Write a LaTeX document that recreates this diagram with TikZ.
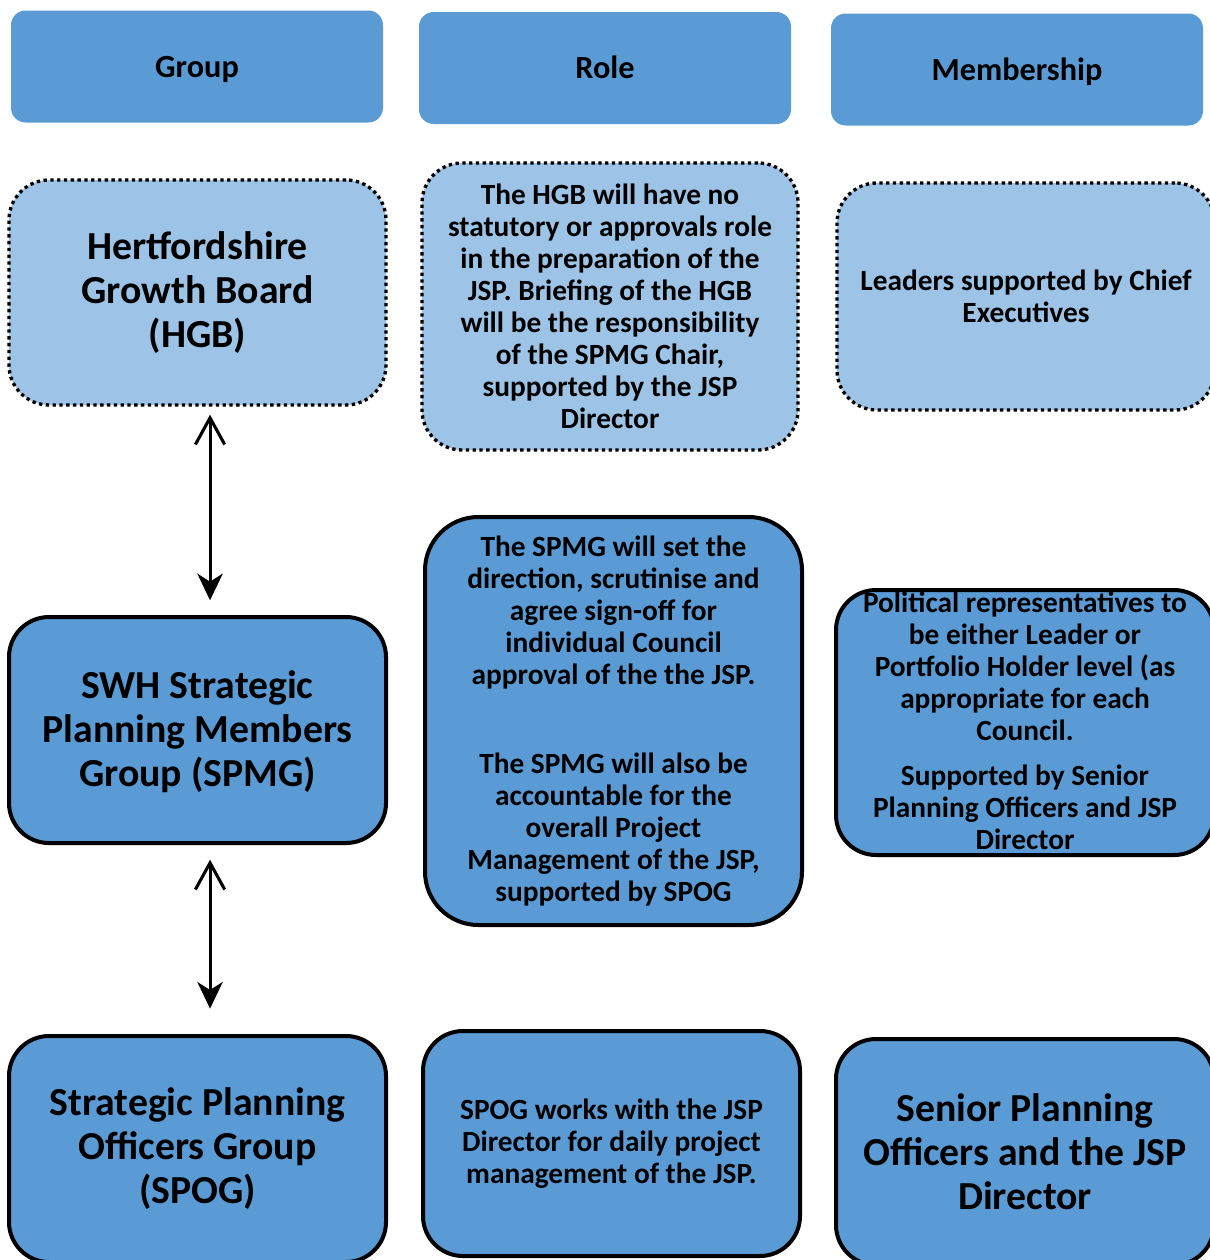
\documentclass[tikz,border=0pt]{standalone}
\usepackage{fontspec}
\setmainfont{Carlito}
\usetikzlibrary{arrows.meta}
\definecolor{midblue}{HTML}{5B9BD5}
\definecolor{lightblue}{HTML}{9DC3E6}
\begin{document}
\begin{tikzpicture}[x=0.75pt,y=-0.75pt,
  hdr/.style={rectangle,rounded corners=11pt,fill=midblue,draw=none,minimum width=279pt,minimum height=84pt,inner sep=0pt,text height=16pt,text depth=0pt,font=\fontsize{24.2}{28}\selectfont\bfseries},
  dotbox/.style={rectangle,rounded corners=30pt,fill=lightblue,draw=black,line width=2.5pt,dash pattern=on 2.5pt off 2.6pt,minimum width=282.75pt,align=center,inner sep=0pt},
  solidbox/.style={rectangle,rounded corners=30pt,fill=midblue,draw=black,line width=3pt,minimum width=282.75pt,align=center,inner sep=0pt},
  bigtxt/.style={font=\fontsize{29.8}{33}\selectfont\bfseries},
  smalltxt/.style={font=\fontsize{22}{24}\selectfont\bfseries},
  conn/.style={line width=2.3pt,{Straight Barb[length=20pt,width=22pt,line width=2.3pt]}-{Stealth[length=20pt,width=19pt,inset=6pt]}}
]
\useasboundingbox (0,0) rectangle (1210,1260);
\clip (0,0) rectangle (1210,1260);
\fill[white] (0,0) rectangle (1210,1260);

% headers
\node[hdr] (hgroup) at (197,66.5) {Group};
\node[hdr] (hrole) at (605,68) {Role};
\node[hdr] (hmem) at (1017,69.5) {Membership};

% row 1
\node[dotbox,bigtxt,minimum height=168.75pt] (hgb) at (197.5,292.5) {Hertfordshire\\Growth Board\\(HGB)};
\node[dotbox,smalltxt,minimum width=282pt,minimum height=215.25pt] (role1) at (610,306.5) {The HGB will have no\\statutory or approvals role\\in the preparation of the\\JSP. Briefing of the HGB\\will be the responsibility\\of the SPMG Chair,\\supported by the JSP\\Director};
\node[dotbox,smalltxt,minimum width=283.5pt,minimum height=170.25pt] (lead) at (1026,296.5) {Leaders supported by Chief\\Executives};

% row 2
\node[solidbox,minimum height=169.5pt] (spmg) at (197.5,730) {};
\node[bigtxt,align=center,inner sep=0pt] (spmgtxt) at (197.5,731.5) {SWH Strategic\\Planning Members\\Group (SPMG)};
\node[solidbox,smalltxt,rounded corners=40pt,minimum height=306pt] (role2) at (613.5,721) {The SPMG will set the\\direction, scrutinise and\\agree sign-off for\\individual Council\\approval of the the JSP.\\[42.75pt]The SPMG will also be\\accountable for the\\overall Project\\Management of the JSP,\\supported by SPOG};
\node[solidbox,minimum width=283.5pt,minimum height=198.75pt] (pol) at (1025,722.5) {};
\node[smalltxt,align=center,inner sep=0pt] (poltxt) at (1025,721) {Political representatives to\\be either Leader or\\Portfolio Holder level (as\\appropriate for each\\Council.\\[9.75pt]Supported by Senior\\Planning Officers and JSP\\Director};

% row 3
\node[solidbox,bigtxt,minimum height=169.5pt] (spog) at (197.5,1149) {Strategic Planning\\Officers Group\\(SPOG)};
\node[solidbox,smalltxt,minimum height=168.75pt] (role3) at (611.5,1143.5) {SPOG works with the JSP\\Director for daily project\\management of the JSP.};
\node[solidbox,bigtxt,minimum width=283.5pt,minimum height=169.5pt] (senior) at (1025,1152) {Senior Planning\\Officers and the JSP\\Director};

% connectors
\draw[conn,shorten <=6pt,shorten >=11pt] ([xshift=9.4pt]hgb.south) -- ([xshift=9.4pt]spmg.north);
\draw[conn,shorten <=11pt,shorten >=19pt] ([xshift=9.4pt]spmg.south) -- ([xshift=9.4pt]spog.north);
\end{tikzpicture}
\end{document}
